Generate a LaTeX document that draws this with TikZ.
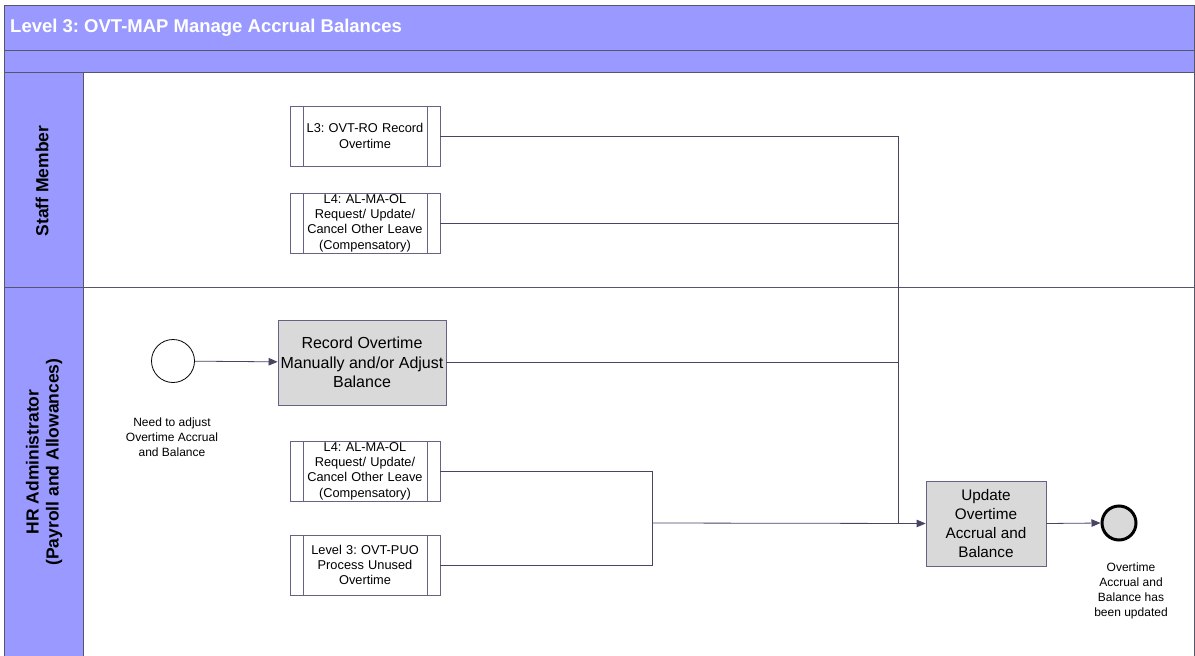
\documentclass[tikz,border=0pt]{standalone}
\usepackage{fontspec}
\setmainfont{Liberation Sans}
\usetikzlibrary{arrows.meta}
\definecolor{lanefill}{RGB}{153,153,255}
\definecolor{lanec}{RGB}{85,85,110}
\definecolor{linec}{RGB}{70,70,100}
\definecolor{taskfill}{RGB}{217,217,217}
\definecolor{taskc}{RGB}{100,100,130}
\frenchspacing
\begin{document}
\begin{tikzpicture}[x=1pt,y=-1pt,
  lanebox/.style={draw=lanec,fill=lanefill,line width=0.8pt},
  lanelbl/.style={rotate=90,align=center,font=\fontsize{17.5}{20}\selectfont\bfseries},
  subproc/.style={draw=taskc,fill=white,line width=0.7pt,minimum width=150pt,minimum height=60pt,
    inner sep=0pt,align=center,text width=140pt,font=\fontsize{12.8}{15.3}\selectfont,
    path picture={
      \draw[taskc,line width=0.7pt] ([xshift=13pt]path picture bounding box.south west) -- ([xshift=13pt]path picture bounding box.north west);
      \draw[taskc,line width=0.7pt] ([xshift=-13pt]path picture bounding box.south east) -- ([xshift=-13pt]path picture bounding box.north east);}},
  task/.style={draw=taskc,fill=taskfill,line width=0.8pt,inner sep=0pt,align=center},
  evlbl/.style={align=center,font=\fontsize{12}{15}\selectfont},
  flow/.style={draw=linec,line width=0.8pt},
  arr/.style={flow,-{Triangle[length=9pt,width=7.5pt]}}]
\useasboundingbox (0,0) rectangle (1195,656);
\fill[white] (0,0) rectangle (1195,656);

% pool header and lane frames
\draw[lanebox] (4,5) rectangle (1194,72);
\draw[lanec,line width=0.8pt] (4,50) -- (1194,50);
\draw[lanebox] (4,72) rectangle (83,287);
\draw[lanebox] (4,287) rectangle (83,662);
\draw[lanec,line width=0.8pt] (83,72) -- (1194,72) -- (1194,662);
\draw[lanec,line width=0.8pt] (83,287) -- (1194,287);
\node[anchor=west,text=white,inner sep=2pt,font=\fontsize{18.5}{21}\selectfont\bfseries] (title) at (8,28) {Level 3: OVT-MAP Manage Accrual Balances};
\node[lanelbl] (lane1) at (42,181) {Staff Member};
\node[lanelbl] (lane2) at (44,462) {HR Administrator\\(Payroll and Allowances)};

% activities
\node[subproc] (ro) at (365,136) {L3: OVT-RO Record\\Overtime};
\node[subproc] (ol1) at (365,223) {L4: AL-MA-OL\\Request/ Update/\\Cancel Other Leave\\(Compensatory)};
\node[task,minimum width=168pt,minimum height=85pt,font=\fontsize{16}{19.5}\selectfont] (rec) at (362,362.5) {Record Overtime\\Manually and/or Adjust\\Balance};
\node[subproc] (ol2) at (365,471) {L4: AL-MA-OL\\Request/ Update/\\Cancel Other Leave\\(Compensatory)};
\node[subproc] (puo) at (365,565) {Level 3: OVT-PUO\\Process Unused\\Overtime};
\node[task,minimum width=120pt,minimum height=85pt,font=\fontsize{15.3}{18.7}\selectfont] (upd) at (986,523.5) {Update\\Overtime\\Accrual and\\Balance};

% events
\node[circle,draw=black,fill=white,line width=0.8pt,minimum size=43pt,inner sep=0pt] (start) at (173,361) {};
\node[evlbl] (startlbl) at (172,437) {Need to adjust\\Overtime Accrual\\and Balance};
\node[circle,draw=black,fill=taskfill,line width=3pt,minimum size=34pt,inner sep=0pt] (end) at (1119,523) {};
\node[evlbl] (endlbl) at (1131,591) {Overtime\\Accrual and\\Balance has\\been updated};

% sequence flows
\coordinate (j1) at (898,523);
\coordinate (j2) at (652,523);
\draw[arr] (start) -- (rec);
\draw[flow] (ro.east) -| (j1);
\draw[flow] (ol1.east) -| (j1);
\draw[flow] (rec.east) -| (j1);
\draw[flow] (ol2.east) -| (j2);
\draw[flow] (puo.east) -| (j2);
\draw[arr] (j2) -- (upd.west);
\draw[arr] (upd.east) -- (end.west);
\end{tikzpicture}
\end{document}
